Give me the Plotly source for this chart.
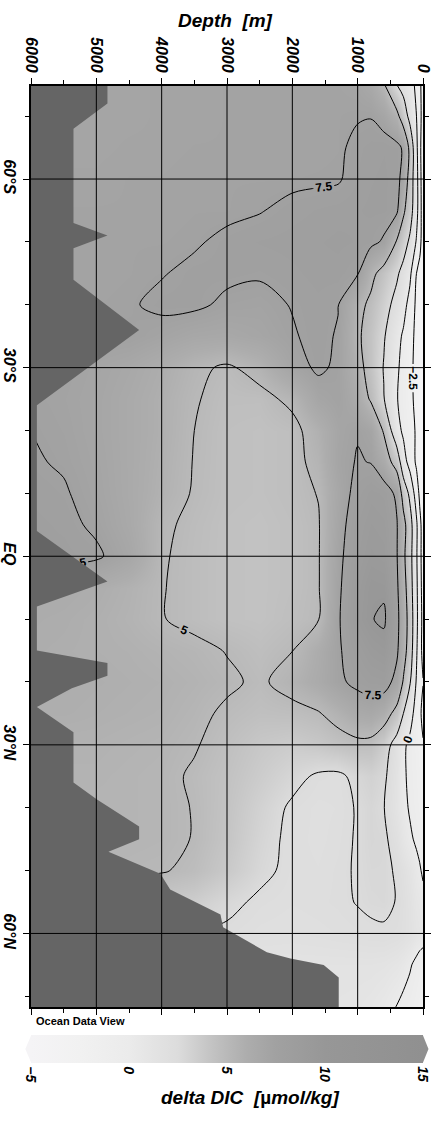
import plotly.graph_objects as go

# ---------------- data ----------------
depth_levels = [0, 50, 100, 200, 300, 400, 600, 800, 1000, 1300, 1600, 2000,
                2500, 3000, 3500, 4000, 4500, 5000, 5500, 6000]
lat_levels = [-75, -70, -65, -60, -55, -50, -45, -40, -35, -30, -25, -20, -15,
              -10, -5, 0, 5, 10, 15, 20, 25, 30, 35, 40, 45, 50, 55, 60, 65, 72]

# delta DIC [umol/kg]; one row per latitude, values along depth_levels
delta_dic = [
    [-3.5, -2.0, -0.4, 0.8, 1.7, 2.5, 5.2, 6.5, 7.0, 7.2, 7.2, 7.2, 7.2, 7.2, 7.1, 7.1, 7.0, 7.0, 7.0, 7.0],
    [-3.8, -1.5, 0.0, 1.8, 3.8, 5.6, 6.9, 7.45, 7.4, 7.3, 7.2, 7.2, 7.2, 7.2, 7.1, 7.1, 7.0, 7.0, 7.0, 7.0],
    [-4.0, -1.8, 0.6, 4.4, 7.3, 7.9, 8.1, 8.0, 7.8, 7.3, 7.2, 7.2, 7.2, 7.2, 7.2, 7.1, 7.1, 7.0, 7.0, 7.0],
    [-4.0, -1.5, 0.9, 3.9, 7.0, 7.9, 8.2, 8.1, 7.9, 7.4, 7.35, 7.3, 7.3, 7.3, 7.3, 7.2, 7.2, 7.1, 7.1, 7.1],
    [-4.0, -1.3, 0.8, 3.6, 5.4, 7.8, 8.2, 8.2, 8.1, 8.0, 7.9, 7.75, 7.45, 7.3, 7.3, 7.2, 7.2, 7.2, 7.2, 7.2],
    [-4.0, -1.6, -0.2, 2.1, 3.5, 4.8, 7.3, 7.9, 8.1, 8.2, 8.1, 8.0, 7.9, 7.7, 7.4, 7.3, 7.3, 7.2, 7.2, 7.2],
    [-4.2, -3.4, -2.5, 0.5, 1.8, 2.8, 4.2, 5.6, 7.6, 8.0, 8.0, 7.8, 7.6, 7.7, 7.7, 7.45, 7.3, 7.2, 7.2, 7.2],
    [-4.3, -3.8, -3.0, -0.8, 0.8, 1.8, 3.3, 4.6, 5.6, 7.55, 7.8, 7.55, 7.2, 7.3, 7.7, 7.7, 7.4, 7.3, 7.3, 7.3],
    [-4.3, -3.9, -3.2, -1.5, -0.3, 0.7, 2.7, 4.2, 5.3, 7.4, 7.8, 7.4, 6.9, 6.6, 6.7, 7.1, 7.5, 7.5, 7.5, 7.5],
    [-4.5, -4.0, -3.3, -1.8, -0.6, 0.3, 2.4, 4.2, 5.7, 7.3, 7.7, 7.0, 5.5, 4.8, 5.3, 6.0, 6.6, 7.0, 7.3, 7.4],
    [-4.5, -4.0, -3.2, -1.8, -0.7, 0.1, 2.6, 4.8, 6.3, 7.3, 6.9, 5.3, 4.6, 4.6, 5.1, 5.8, 6.4, 6.9, 7.2, 7.4],
    [-4.4, -3.8, -2.9, -1.2, -0.4, 0.8, 4.8, 7.0, 7.4, 6.9, 5.7, 4.6, 4.4, 4.5, 5.0, 5.8, 6.4, 6.9, 7.3, 7.5],
    [-4.3, -3.7, -2.9, -0.9, 1.0, 4.0, 6.3, 7.45, 7.6, 7.0, 5.4, 4.6, 4.4, 4.5, 4.95, 5.7, 6.4, 7.0, 7.4, 7.6],
    [-3.8, -3.0, -1.2, 2.0, 4.0, 7.2, 8.3, 8.5, 8.0, 6.7, 5.05, 4.6, 4.4, 4.5, 4.9, 5.6, 6.4, 7.1, 7.6, 7.8],
    [-3.6, -1.8, 0.4, 3.5, 5.8, 7.6, 8.7, 8.9, 8.4, 6.9, 4.9, 4.5, 4.3, 4.4, 4.75, 5.2, 6.5, 7.3, 7.8, 8.0],
    [-3.5, -1.8, 0.3, 3.4, 5.5, 7.6, 9.0, 9.2, 8.6, 7.1, 4.9, 4.5, 4.3, 4.4, 4.7, 5.1, 6.8, 7.7, 8.0, 8.0],
    [-3.4, -1.6, 0.5, 3.6, 6.0, 7.8, 9.7, 9.8, 9.0, 7.2, 4.9, 4.5, 4.3, 4.4, 4.7, 5.05, 5.6, 6.0, 6.2, 6.3],
    [-3.2, -1.4, 0.6, 4.0, 6.3, 8.0, 10.3, 9.9, 9.2, 7.3, 4.95, 4.6, 4.3, 4.4, 4.7, 5.05, 5.5, 5.8, 6.0, 6.1],
    [-3.2, -1.6, 0.3, 3.8, 6.0, 7.8, 9.3, 9.0, 8.4, 7.3, 6.1, 4.98, 4.6, 4.95, 5.3, 5.5, 5.7, 5.8, 5.9, 6.0],
    [-2.4, -1.5, -0.2, 2.7, 4.8, 6.9, 8.3, 8.2, 7.9, 7.2, 6.3, 5.5, 4.8, 5.2, 5.5, 5.7, 5.8, 5.9, 6.0, 6.0],
    [-3.2, -2.0, -0.9, 0.9, 2.5, 4.3, 6.0, 6.6, 6.4, 5.6, 4.9, 4.6, 4.5, 4.8, 5.3, 5.6, 5.7, 5.8, 5.9, 5.9],
    [-2.3, -1.8, -1.2, -0.5, 0.4, 1.6, 3.5, 4.5, 4.6, 4.3, 3.9, 3.6, 3.9, 4.5, 5.1, 5.4, 5.5, 5.6, 5.6, 5.6],
    [-2.0, -1.5, -1.0, -0.4, 0.3, 1.4, 2.8, 3.2, 2.9, 2.2, 2.3, 2.9, 3.6, 4.3, 4.85, 5.3, 5.4, 5.5, 5.5, 5.5],
    [-1.6, -1.2, -0.8, -0.2, 0.5, 1.3, 2.55, 2.9, 2.6, 2.1, 2.0, 2.3, 3.2, 4.2, 4.95, 5.3, 5.4, 5.4, 5.4, 5.4],
    [-1.0, -0.6, -0.3, 0.3, 1.0, 1.8, 2.8, 2.9, 2.6, 2.2, 2.0, 2.2, 3.0, 4.1, 4.95, 5.3, 5.4, 5.4, 5.4, 5.4],
    [-0.3, 0.2, 0.6, 1.3, 1.9, 2.35, 2.8, 2.8, 2.6, 2.3, 2.1, 2.2, 2.8, 3.8, 4.7, 5.1, 5.2, 5.2, 5.2, 5.2],
    [0.6, 0.8, 1.0, 1.6, 2.1, 2.45, 2.75, 2.7, 2.55, 2.3, 2.2, 2.1, 2.3, 2.8, 3.5, 3.8, 3.9, 4.0, 4.0, 4.0],
    [1.0, 1.1, 1.3, 1.7, 2.0, 2.2, 2.35, 2.3, 2.2, 2.1, 2.0, 1.9, 2.0, 2.3, 2.45, 2.6, 2.6, 2.6, 2.6, 2.6],
    [-1.2, -0.9, -0.5, 0.2, 0.7, 1.0, 1.3, 1.4, 1.4, 1.4, 1.4, 1.4, 1.4, 1.4, 1.4, 1.4, 1.4, 1.4, 1.4, 1.4],
    [-2.2, -1.8, -1.4, -0.9, -0.5, -0.1, 0.5, 0.9, 1.1, 1.2, 1.2, 1.2, 1.2, 1.2, 1.2, 1.2, 1.2, 1.2, 1.2, 1.2],
]

# sea-floor (bottom depth along the section)
bathy_lat = [-76, -72, -68, -53, -51, -49, -44, -36, -24, -4, 4, 8, 15, 17, 19, 21, 24,
             28, 36, 38.7, 43, 45, 47, 50.5, 53, 57, 59, 63, 64, 65, 67, 73]
bathy_depth = [4830, 4830, 5350, 5350, 4830, 5350, 5350, 4345, 5910, 5910, 4830, 5910,
               5910, 4830, 4830, 5375, 5910, 5350, 5350, 4990, 4345, 4345, 4815, 4020,
               3870, 3100, 3060, 2390, 2030, 1520, 1290, 1290]

depth_ticks = [0, 1000, 2000, 3000, 4000, 5000, 6000]
lat_ticks = [-60, -30, 0, 30, 60]
lat_tick_labels = ["60°S", "30°S", "EQ", "30°N", "60°N"]
contour_start, contour_end, contour_step = -2.5, 10, 2.5
cbar_min, cbar_max = -5, 15
cbar_ticks = [-5, 0, 5, 10, 15]

gray_scale = [
    [0.0, "#f5f4f6"], [0.125, "#f1f1f1"], [0.25, "#ebebeb"], [0.375, "#dcdcdc"],
    [0.45, "#c6c6c6"], [0.5, "#b9b9b9"], [0.55, "#adadad"], [0.625, "#a1a1a1"],
    [0.75, "#979797"], [1.0, "#909090"],
]

FONT = "Liberation Sans"
bi = dict(family=FONT, color="black", weight="bold", style="italic")

fig = go.Figure()

fig.add_trace(go.Heatmap(
    x=depth_levels, y=lat_levels, z=delta_dic,
    zmin=cbar_min, zmax=cbar_max, colorscale=gray_scale, zsmooth="best",
    hoverinfo="skip",
    colorbar=dict(
        orientation="h", x=0.5, xanchor="center", len=1, lenmode="fraction",
        y=-0.0304, yanchor="top", thickness=28, thicknessmode="pixels",
        xpad=0, ypad=0, outlinewidth=0,
        tickmode="array", tickvals=cbar_ticks, ticks="", tickangle=90,
        tickfont=dict(size=14, **bi),
    ),
))

fig.add_trace(go.Contour(
    x=depth_levels, y=lat_levels, z=delta_dic,
    autocontour=False,
    contours=dict(start=contour_start, end=contour_end, size=contour_step,
                  coloring="none", showlabels=True,
                  labelfont=dict(family=FONT, size=12, color="black", weight="bold")),
    line=dict(color="black", width=1, smoothing=0.9),
    showscale=False, hoverinfo="skip",
))

fig.add_trace(go.Scatter(
    x=bathy_depth + [6500, 6500], y=bathy_lat + [bathy_lat[-1], bathy_lat[0]],
    mode="lines", fill="toself", fillcolor="#656565", line=dict(width=0),
    hoverinfo="skip", showlegend=False,
))

# grid lines on top of everything
for d in depth_ticks[1:-1]:
    fig.add_shape(type="line", xref="x", yref="paper", x0=d, x1=d, y0=0, y1=1,
                  line=dict(color="black", width=1), layer="above")
for la in lat_ticks:
    fig.add_shape(type="line", xref="paper", yref="y", x0=0, x1=1, y0=la, y1=la,
                  line=dict(color="black", width=1), layer="above")

# pointed ends of the colour bar
fig.add_shape(type="path", xref="paper", yref="paper",
              path="M -0.0145,-0.0456 L 0.0008,-0.0304 L 0.0008,-0.0608 Z",
              fillcolor="#f5f4f6", line=dict(width=0))
fig.add_shape(type="path", xref="paper", yref="paper",
              path="M 1.0140,-0.0456 L 0.9995,-0.0304 L 0.9995,-0.0608 Z",
              fillcolor="#909090", line=dict(width=0))

fig.update_layout(
    width=437, height=1125,
    margin=dict(l=31, r=14, t=86, b=118, autoexpand=False),
    paper_bgcolor="white", plot_bgcolor="white",
    showlegend=False,
    xaxis=dict(
        range=[6000, 0], side="top", tickmode="array", tickvals=depth_ticks,
        ticks="outside", ticklen=6, tickwidth=1, tickcolor="black", tickangle=90,
        tickfont=dict(size=16, **bi), showgrid=False, zeroline=False,
        showline=True, linecolor="black", linewidth=1.5, mirror="ticks",
        automargin=False,
        minor=dict(ticks="outside", ticklen=4, tick0=0, dtick=500, tickcolor="black",
                   showgrid=False),
    ),
    yaxis=dict(
        range=[71.7, -74.8], tickmode="array", tickvals=lat_ticks,
        ticktext=lat_tick_labels, ticks="outside", ticklen=6, tickwidth=1,
        tickcolor="black", tickangle=90, tickfont=dict(size=16, **bi),
        showgrid=False, zeroline=False, showline=True, linecolor="black",
        linewidth=1.5, mirror="ticks", automargin=False,
        minor=dict(ticks="outside", ticklen=4, tick0=0, dtick=10, tickcolor="black",
                   showgrid=False),
    ),
    annotations=[
        dict(text="Depth\u00a0\u00a0[m]", xref="paper", yref="paper", x=0.495, y=1.0709,
             xanchor="center", yanchor="middle", showarrow=False,
             font=dict(size=19, **bi)),
        dict(text="Ocean Data View", xref="paper", yref="paper", x=0.008, y=-0.0149,
             xanchor="left", yanchor="middle", showarrow=False,
             font=dict(family=FONT, size=11, color="black", weight="bold")),
        dict(text="<i>delta DIC\u00a0\u00a0[</i><span style='font-style:normal'>µ</span><i>mol/kg]</i>",
             xref="paper", yref="paper", x=0.559, y=-0.0988,
             xanchor="center", yanchor="middle", showarrow=False,
             font=dict(family=FONT, size=19, color="black", weight="bold")),
    ],
)

fig.write_html(
    "out.html",
    config={"displayModeBar": False},
    post_script="document.body.style.margin='0';document.body.style.overflow='hidden';",
)
